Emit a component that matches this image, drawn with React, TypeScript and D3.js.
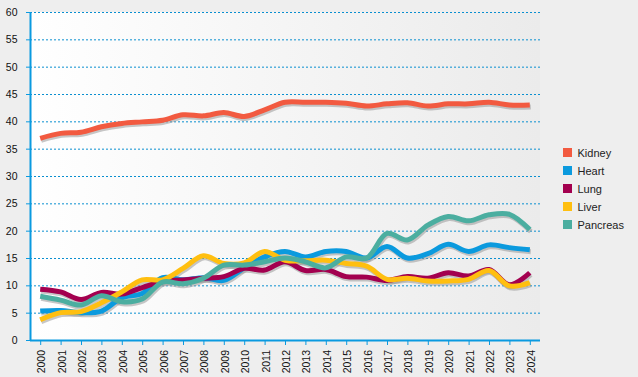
import React from "react";
import * as d3 from "d3";

const years = ["2000","2001","2002","2003","2004","2005","2006","2007","2008","2009","2010","2011","2012","2013","2014","2015","2016","2017","2018","2019","2020","2021","2022","2023","2024"];
const kidney = [36.9,37.8,38.0,39.0,39.6,39.9,40.2,41.2,41.0,41.6,40.9,42.1,43.5,43.5,43.5,43.3,42.8,43.2,43.4,42.8,43.2,43.2,43.5,43.0,43.0];
const heart = [5.3,5.4,5.0,5.3,7.7,8.5,11.4,11.0,11.4,10.9,13.2,15.2,16.2,15.2,16.2,16.2,15.0,17.1,15.0,15.8,17.5,16.2,17.4,16.9,16.5];
const lung = [9.3,8.8,7.4,8.7,8.4,9.6,10.7,11.0,11.3,11.6,13.1,12.8,14.3,12.7,12.9,11.6,11.5,10.9,11.6,11.3,12.3,11.7,12.9,10.1,12.3];
const liver = [3.7,5.0,5.2,6.8,8.8,11.0,11.0,13.1,15.4,14.0,14.1,16.2,14.6,14.5,14.6,14.0,13.5,11.1,11.3,10.8,10.8,11.1,12.7,9.9,10.5];
const pancreas = [8.0,7.3,6.4,8.1,7.0,7.5,10.6,10.3,11.3,13.7,13.7,14.3,15.0,14.3,13.2,15.2,15.0,19.5,18.3,21.0,22.6,21.8,22.9,23.0,20.2];
const seriesNames = ["Kidney","Heart","Lung","Liver","Pancreas"];
const seriesColors = ["#f25a40","#0b9ade","#a3004f","#ffbf10","#4baea0"];
const yTicks = [0,5,10,15,20,25,30,35,40,45,50,55,60];

export default function App() {
  const W = 638, H = 377;
  const left = 30, right = 540, top = 12, bottom = 340;
  const x = d3.scalePoint<string>().domain(years).range([left, right]).padding(0.5);
  const y = d3.scaleLinear().domain([0, 60]).range([bottom, top]);
  const allSeries = [kidney, heart, lung, liver, pancreas];
  const line = d3.line<number>()
    .x((_, i) => x(years[i]) as number)
    .y((d) => y(d))
    .curve(d3.curveCatmullRom.alpha(0.5));
  const font = "'Liberation Sans', Arial, sans-serif";
  const axisColor = "#0a9ae0";
  return (
    <svg width={W} height={H} style={{ position: "absolute", left: 0, top: 0 }} fontFamily={font}>
      <defs>
        <linearGradient id="bg" x1="0" x2="1" y1="0" y2="0">
          <stop offset="0" stopColor="#ffffff" />
          <stop offset="1" stopColor="#ebebeb" />
        </linearGradient>
      </defs>
      <rect x={0} y={0} width={W} height={H} fill="#eeeeee" />
      <rect x={left} y={top} width={right - left} height={bottom - top} fill="url(#bg)" />
      {yTicks.map((t) => (
        <g key={t}>
          {t > 0 && (
            <line x1={left} x2={right} y1={y(t) + 0.5} y2={y(t) + 0.5} stroke="#0a8fd0" strokeDasharray="2,2" strokeWidth={1} />
          )}
          <line x1={left - 4} x2={left} y1={y(t) + 0.5} y2={y(t) + 0.5} stroke={axisColor} />
          <text x={17.5} y={y(t) + 4} fontSize={10.5} textAnchor="end" fill="#111">{t}</text>
        </g>
      ))}
      {allSeries.map((s, i) => (
        <path key={"sh" + i} d={line(s) || ""} fill="none" stroke="#999" strokeOpacity={0.55} strokeWidth={5} transform="translate(1,2)" />
      ))}
      {allSeries.map((s, i) => (
        <path key={"ln" + i} d={line(s) || ""} fill="none" stroke={seriesColors[i]} strokeWidth={5} strokeLinejoin="round" />
      ))}
      <line x1={left + 0.5} x2={left + 0.5} y1={top} y2={bottom} stroke={axisColor} strokeWidth={2} />
      <line x1={left} x2={right} y1={bottom + 0.5} y2={bottom + 0.5} stroke={axisColor} strokeWidth={2} />
      {years.map((yr) => {
        const px = x(yr) as number;
        return (
          <g key={yr}>
            <line x1={px + 0.5} x2={px + 0.5} y1={bottom} y2={bottom + 5} stroke={axisColor} />
            <text transform={`translate(${px + 5},${bottom + 10}) rotate(-90)`} fontSize={10.5} textAnchor="end" fill="#111">{yr}</text>
          </g>
        );
      })}
      {seriesNames.map((n, i) => (
        <g key={n} transform={`translate(563,${148 + i * 18})`}>
          <rect x={0} y={0} width={9} height={9} fill={seriesColors[i]} />
          <text x={14.5} y={8.5} fontSize={11} fill="#222">{n}</text>
        </g>
      ))}
    </svg>
  );
}
